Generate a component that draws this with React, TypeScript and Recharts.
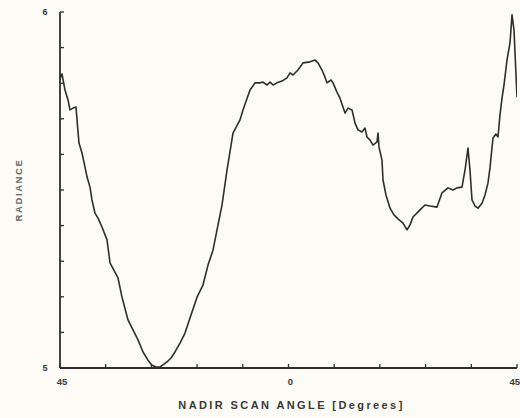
import { Line, LineChart, XAxis, YAxis } from "recharts";

// Nadir scan angle (degrees, left edge = 45 on one side, right edge = 45 on the other)
const angles = [
  -45.0, -44.8, -44.61, -44.02, -43.42, -43.03, -42.44, -41.85, -41.65, -41.26,
  -40.67, -40.08, -39.68, -39.09, -38.7, -38.11, -37.52, -36.73, -35.74, -35.15,
  -33.58, -32.79, -31.61, -29.64, -28.65, -27.67, -26.88, -26.09, -25.31, -24.52,
  -23.93, -23.14, -22.35, -21.37, -20.38, -19.2, -18.02, -16.84, -15.85, -14.87,
  -13.88, -13.09, -12.11, -10.93, -9.55, -8.96, -7.58, -6.6, -5.61, -5.02,
  -4.23, -3.64, -3.05, -2.26, -1.28, -0.3, 0.3, 0.89, 1.87, 2.86,
  4.23, 5.22, 5.81, 6.6, 7.19, 7.58, 8.37, 8.76, 9.55, 10.14,
  11.13, 11.72, 12.51, 13.1, 13.69, 14.47, 15.07, 15.46, 16.06, 16.64,
  17.43, 17.63, 17.82, 18.41, 18.61, 19.2, 19.99, 20.78, 21.56, 22.55,
  23.34, 23.93, 24.52, 25.9, 26.88, 27.87, 29.25, 30.23, 31.41, 32.4,
  33.18, 34.17, 34.76, 35.35, 35.74, 36.14, 36.73, 37.32, 38.11, 38.7,
  39.29, 39.68, 40.27, 40.86, 41.26, 41.65, 42.05, 42.44, 43.03, 43.62,
  44.02, 44.41, 45.0,
];

const radiance = [
  5.809, 5.823, 5.826, 5.781, 5.753, 5.725, 5.73, 5.733, 5.697, 5.632,
  5.604, 5.565, 5.537, 5.508, 5.472, 5.435, 5.421, 5.396, 5.36, 5.295,
  5.253, 5.199, 5.135, 5.079, 5.045, 5.022, 5.008, 5.003, 5.003, 5.011,
  5.017, 5.028, 5.045, 5.07, 5.098, 5.149, 5.199, 5.233, 5.289, 5.331,
  5.402, 5.458, 5.556, 5.66, 5.697, 5.725, 5.781, 5.801, 5.801, 5.803,
  5.795, 5.803, 5.795, 5.801, 5.806, 5.815, 5.829, 5.823, 5.837, 5.857,
  5.86, 5.865, 5.857, 5.837, 5.817, 5.801, 5.809, 5.801, 5.775, 5.758,
  5.716, 5.73, 5.725, 5.688, 5.669, 5.663, 5.674, 5.649, 5.64, 5.626,
  5.635, 5.66, 5.621, 5.584, 5.528, 5.486, 5.449, 5.43, 5.419, 5.407,
  5.388, 5.402, 5.424, 5.444, 5.458, 5.455, 5.452, 5.492, 5.506, 5.5,
  5.506, 5.508, 5.556, 5.618, 5.556, 5.472, 5.455, 5.449, 5.463, 5.486,
  5.52, 5.562, 5.646, 5.657, 5.649, 5.711, 5.758, 5.795, 5.865, 5.913,
  5.992, 5.949, 5.761,
];

const xTicks = [-45, -36, -27, -18, -9, 0, 9, 18, 27, 36, 45];
const xTickText = ["45", "", "", "", "", "0", "", "", "", "", "45"];
const yTicks = [5, 5.1, 5.2, 5.3, 5.4, 5.5, 5.6, 5.7, 5.8, 5.9, 6];
const yTickText = ["5", "", "", "", "", "", "", "", "", "", "6"];

const INK = "#2f2e2c";
const FONT = "'Liberation Sans', Arial, sans-serif";

const data = angles.map((angle, i) => ({ angle, value: radiance[i] }));

function XTick({ x, y, index }: any) {
  const text = xTickText[index];
  const last = index === xTicks.length - 1;
  return (
    <g>
      <line stroke={INK} strokeWidth={1.3} x1={x} x2={x} y1={y} y2={y - 4} />
      {text ? (
        <text
          fill="#3a3936"
          fontFamily={FONT}
          fontSize={9.5}
          fontWeight="bold"
          textAnchor={last ? "end" : "middle"}
          x={last ? x + 3 : x + 2}
          y={y + 17}
        >
          {text}
        </text>
      ) : null}
    </g>
  );
}

function YTick({ x, y, index }: any) {
  const text = yTickText[index];
  return (
    <g>
      <line stroke={INK} strokeWidth={1.3} x1={x} x2={x + 4} y1={y} y2={y} />
      {text ? (
        <text
          dominantBaseline="central"
          fill="#3a3936"
          fontFamily={FONT}
          fontSize={9}
          fontWeight="bold"
          textAnchor="middle"
          x={x - 15}
          y={y}
        >
          {text}
        </text>
      ) : null}
    </g>
  );
}

function XTitle({ viewBox }: any) {
  return (
    <text
      fill="#3a3936"
      fontFamily={FONT}
      fontSize={11}
      fontWeight="bold"
      letterSpacing={2.4}
      textAnchor="middle"
      x={viewBox.x + viewBox.width / 2 + 3}
      y={viewBox.y + 41}
    >
      NADIR SCAN ANGLE [Degrees]
    </text>
  );
}

function YTitle({ viewBox }: any) {
  const cx = viewBox.x + 18;
  const cy = viewBox.y + viewBox.height / 2;
  return (
    <text
      dominantBaseline="central"
      fill="#6a6864"
      fontFamily={FONT}
      fontSize={9.5}
      fontWeight="bold"
      letterSpacing={1.6}
      textAnchor="middle"
      transform={`rotate(-90, ${cx}, ${cy})`}
      x={cx}
      y={cy}
    >
      RADIANCE
    </text>
  );
}

export default function App() {
  return (
    <div
      style={{
        position: "absolute",
        left: 0,
        top: 0,
        width: 520,
        height: 418,
        background: "#fcfbf6",
      }}
    >
      <LineChart
        data={data}
        height={418}
        margin={{ top: 12, right: 3, bottom: 0, left: 0 }}
        width={520}
      >
        <XAxis
          allowDataOverflow
          axisLine={{ stroke: INK, strokeWidth: 1.8 }}
          dataKey="angle"
          domain={[-45, 45]}
          height={50}
          interval={0}
          label={<XTitle />}
          tick={<XTick />}
          tickLine={false}
          tickMargin={0}
          tickSize={0}
          ticks={xTicks}
          type="number"
        />
        <YAxis
          allowDataOverflow
          axisLine={{ stroke: INK, strokeWidth: 1.8 }}
          domain={[5, 6]}
          interval={0}
          label={<YTitle />}
          tick={<YTick />}
          tickLine={false}
          tickMargin={0}
          tickSize={0}
          ticks={yTicks}
          type="number"
          width={60}
        />
        <Line
          dataKey="value"
          dot={false}
          isAnimationActive={false}
          stroke={INK}
          strokeLinejoin="round"
          strokeWidth={1.6}
          type="linear"
        />
      </LineChart>
    </div>
  );
}
